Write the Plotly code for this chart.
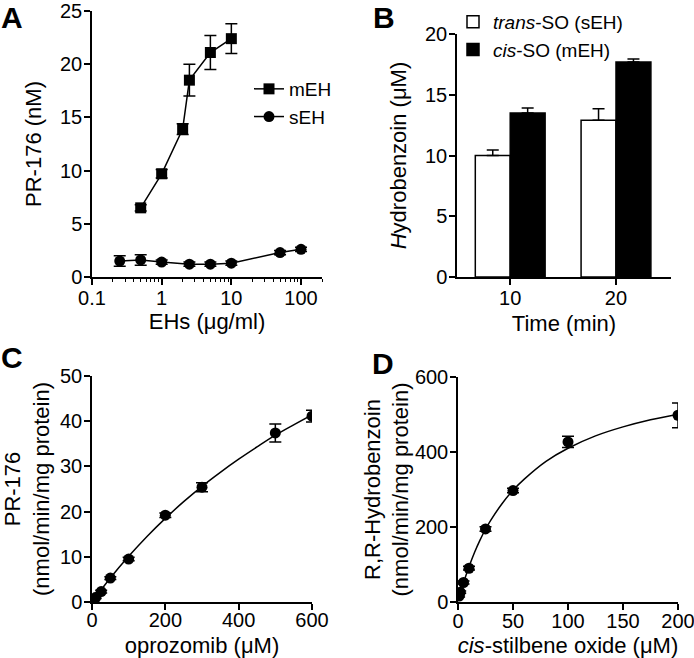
import plotly.graph_objects as go

# ---------------- Data ----------------
# Panel A
a_meh_x = [0.5, 1, 2, 2.5, 5, 10]
a_meh_y = [6.5, 9.7, 13.9, 18.5, 21.1, 22.4]
a_meh_err = [0.3, 0.4, 0.5, 1.5, 1.6, 1.4]
a_seh_x = [0.25, 0.5, 1, 2.5, 5, 10, 50, 100]
a_seh_y = [1.5, 1.6, 1.4, 1.2, 1.2, 1.3, 2.3, 2.6]
a_seh_err = [0.5, 0.5, 0.2, 0.2, 0.2, 0.2, 0.2, 0.2]
a_tickvals = [0.1, 1, 10, 100]
a_ticktext = ["0.1", "1", "10", "100"]

# Panel B
b_times = ["10", "20"]
b_trans = [10.0, 12.9]
b_trans_err = [0.45, 0.95]
b_cis = [13.5, 17.7]
b_cis_err = [0.4, 0.25]

# Panel C
c_x = [5, 10, 25, 50, 100, 200, 300, 500, 600]
c_y = [0.5, 1.0, 2.3, 5.3, 9.5, 19.2, 25.4, 37.4, 41.1]
c_err = [0.2, 0.2, 0.3, 0.3, 0.4, 0.5, 1.0, 2.0, 1.3]
c_fit_x = [0, 50, 100, 150, 200, 250, 300, 350, 400, 450, 500, 550, 600]
c_fit_y = [0, 5.3, 10.1, 14.5, 18.5, 22.2, 25.6, 28.7, 31.6, 34.3, 36.9, 39.2, 41.4]

# Panel D
d_x = [1, 2, 5, 10, 25, 50, 100, 200]
d_y = [16, 26, 52, 90, 195, 297, 427, 498]
d_err = [3, 3, 4, 5, 6, 6, 15, 33]
d_fit_x = [1, 5, 10, 15, 20, 25, 30, 40, 50, 60, 80, 100, 125, 150, 175, 200]
d_fit_y = [11, 51, 94, 132, 165, 194, 219, 262, 298, 327, 375, 410, 443, 467, 486, 501]

FONT = "Liberation Sans, Arial, sans-serif"
TICK = 20
TITLE = 22
LEG = 19
LW = 1.5

fig = go.Figure()

# A
fig.add_trace(go.Scatter(
    x=a_meh_x, y=a_meh_y, mode="lines+markers", name="mEH",
    marker=dict(symbol="square", size=11, color="black"),
    line=dict(color="black", width=LW),
    error_y=dict(type="data", array=a_meh_err, color="black", thickness=LW, width=6),
    xaxis="x", yaxis="y", legend="legend"))
fig.add_trace(go.Scatter(
    x=a_seh_x, y=a_seh_y, mode="lines+markers", name="sEH",
    marker=dict(symbol="circle", size=11, color="black"),
    line=dict(color="black", width=LW),
    error_y=dict(type="data", array=a_seh_err, color="black", thickness=LW, width=6),
    xaxis="x", yaxis="y", legend="legend"))

# B
fig.add_trace(go.Bar(
    x=b_times, y=b_trans, name="<i>trans</i>-SO (sEH)",
    marker=dict(color="white", line=dict(color="black", width=LW)),
    error_y=dict(type="data", array=b_trans_err, arrayminus=[0, 0], symmetric=False,
                 color="black", thickness=LW, width=6),
    xaxis="x2", yaxis="y2", legend="legend2"))
fig.add_trace(go.Bar(
    x=b_times, y=b_cis, name="<i>cis</i>-SO (mEH)",
    marker=dict(color="black", line=dict(color="black", width=LW)),
    error_y=dict(type="data", array=b_cis_err, arrayminus=[0, 0], symmetric=False,
                 color="black", thickness=LW, width=6),
    xaxis="x2", yaxis="y2", legend="legend2"))

# C
fig.add_trace(go.Scatter(
    x=c_fit_x, y=c_fit_y, mode="lines", line=dict(color="black", width=LW, shape="spline"),
    showlegend=False, xaxis="x3", yaxis="y3"))
fig.add_trace(go.Scatter(
    x=c_x, y=c_y, mode="markers", marker=dict(size=11, color="black"),
    error_y=dict(type="data", array=c_err, color="black", thickness=LW, width=6),
    showlegend=False, xaxis="x3", yaxis="y3"))

# D
fig.add_trace(go.Scatter(
    x=d_fit_x, y=d_fit_y, mode="lines", line=dict(color="black", width=LW, shape="spline"),
    showlegend=False, xaxis="x4", yaxis="y4"))
fig.add_trace(go.Scatter(
    x=d_x, y=d_y, mode="markers", marker=dict(size=11, color="black"),
    error_y=dict(type="data", array=d_err, color="black", thickness=LW, width=6),
    showlegend=False, xaxis="x4", yaxis="y4"))

axis_common = dict(showline=True, linecolor="black", linewidth=LW, ticks="outside",
                   ticklen=6, tickwidth=LW, tickcolor="black", showgrid=False,
                   zeroline=False, ticklabeloverflow="allow",
                   tickfont=dict(size=TICK, color="black", family=FONT),
                   title_font=dict(size=TITLE, color="black", family=FONT))
yaxis_common = dict(axis_common, ticklabelstandoff=-2)

# minor tick positions for log axis (2..9 per decade)
a_minor = [m * 10.0 ** e for e in (-1, 0, 1) for m in range(2, 10)] + [200]

W, H = 694, 658
def dx(a, b):
    return [a / W, b / W]
def dy(top, bottom):
    return [1 - bottom / H, 1 - top / H]

fig.update_layout(
    width=W, height=H, margin=dict(l=0, r=0, t=0, b=0, autoexpand=False),
    paper_bgcolor="white", plot_bgcolor="white",
    font=dict(family=FONT, color="black"),
    barmode="group", bargap=0.34, bargroupgap=0,
    xaxis=dict(axis_common, ticklabelstandoff=-4, type="log", range=[-1, 2.301],
               domain=dx(92, 322), tickvals=a_tickvals, ticktext=a_ticktext,
               minor=dict(ticks="outside", ticklen=3, tickcolor="black", tickwidth=1,
                          tickvals=a_minor, showgrid=False),
               title=dict(text="EHs (μg/ml)", standoff=6), anchor="y"),
    yaxis=dict(yaxis_common, range=[0, 25], domain=dy(11, 277), dtick=5,
               title=dict(text="PR-176 (nM)", standoff=12), anchor="x"),
    xaxis2=dict(axis_common, ticklabelstandoff=-4, type="category", range=[-0.503, 1.52],
                domain=dx(457, 671),
                title=dict(text="Time (min)", standoff=8), anchor="y2"),
    yaxis2=dict(yaxis_common, range=[0, 20], domain=dy(34, 277), dtick=5,
                title=dict(text="<i>H</i>ydrobenzoin (μM)", standoff=12), anchor="x2"),
    xaxis3=dict(axis_common, ticklabelstandoff=-7, range=[0, 600], domain=dx(92, 312),
                dtick=200, title=dict(text="oprozomib (μM)", standoff=12), anchor="y3"),
    yaxis3=dict(yaxis_common, range=[0, 50], domain=dy(376, 602), dtick=10,
                title=dict(text="PR-176<br>(nmol/min/mg protein)", standoff=25), anchor="x3"),
    xaxis4=dict(axis_common, ticklabelstandoff=-6, range=[0, 200], domain=dx(458, 678),
                dtick=50, title=dict(text="<i>cis</i>-stilbene oxide (μM)", standoff=17),
                anchor="y4"),
    yaxis4=dict(yaxis_common, range=[0, 600], domain=dy(377, 602), dtick=200,
                title=dict(text="R,R-Hydrobenzoin<br>(nmol/min/mg protein)", standoff=0),
                anchor="x4"),
    legend=dict(x=249 / W, y=1 - 70 / H, xanchor="left", yanchor="top",
                bgcolor="rgba(0,0,0,0)", font=dict(size=LEG, family=FONT, color="black"),
                itemwidth=30, tracegroupgap=0),
    legend2=dict(x=453 / W, y=1 - 3 / H, xanchor="left", yanchor="top",
                 bgcolor="rgba(0,0,0,0)", font=dict(size=LEG, family=FONT, color="black"),
                 itemwidth=30, tracegroupgap=0),
    showlegend=True,
)

letters = [("A", 0, 0), ("B", 372, 0), ("C", 0, 340), ("D", 371, 346)]
for t, x, y in letters:
    fig.add_annotation(text=f"<b>{t}</b>", x=x / W, y=1 - y / H, xref="paper", yref="paper",
                       xanchor="left", yanchor="top", showarrow=False, borderpad=0,
                       font=dict(size=30, family=FONT, color="black"))

fig.write_html("out.html", config={"displayModeBar": False},
               post_script="document.body.style.margin='0px';")
